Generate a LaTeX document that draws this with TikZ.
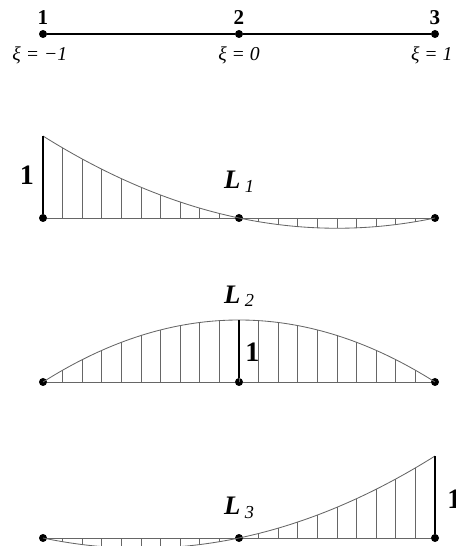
\documentclass[tikz,border=0pt]{standalone}
\usepackage{fontspec}
\setmainfont{Liberation Serif}
\usetikzlibrary{positioning}

\tikzset{
  dot/.style={circle, fill, inner sep=0pt, minimum size=0.2cm},
  base line/.style={black!60, line width=0.6pt},
  curve/.style={black!60, line width=0.6pt},
  hatch/.style={black!60, line width=0.5pt},
  unit/.style={line width=1.4pt},
  numlabel/.style={inner sep=0pt, font=\fontsize{15}{15}\selectfont\bfseries},
  onelabel/.style={inner sep=0pt, font=\fontsize{20}{20}\selectfont\bfseries},
  xilabel/.style={inner sep=0pt, font=\fontsize{14}{14}\selectfont\itshape},
  shapelabel/.style={inner sep=0pt, font=\fontsize{19}{19}\selectfont\bfseries\itshape},
}
\newcommand{\shapename}[1]{L\,\raisebox{-0.3ex}{\fontsize{13}{13}\selectfont\mdseries #1}}

\begin{document}
\begin{tikzpicture}[node distance=1cm]
\useasboundingbox (0,0) rectangle (11.4,13.65);

\node[dot] (p1) at (1.075,12.8) {};
\node[dot] (p2) at (5.975,12.8) {};
\node[dot] (p3) at (10.875,12.8) {};
\draw[line width=1.8pt] (p1) -- (p2) -- (p3);
\node[numlabel, above=0.12cm of p1] (n1) {1};
\node[numlabel, above=0.12cm of p2] (n2) {2};
\node[numlabel, above=0.12cm of p3] (n3) {3};
\node[xilabel, below=0.2cm of p1, xshift=-0.08cm] (xi1) {ξ = −1};
\node[xilabel, below=0.2cm of p2] (xi2) {ξ = 0};
\node[xilabel, below=0.2cm of p3, xshift=-0.08cm] (xi3) {ξ = 1};

% L1
\node[dot] (a1) at (1.075,8.2) {};
\node[dot] (a2) at (5.975,8.2) {};
\node[dot] (a3) at (10.875,8.2) {};
\coordinate (a1top) at (1.075,10.25);
\draw[base line] (a1) -- (a2) -- (a3);
\foreach \k in {-9,...,9}
  \draw[hatch] ({5.975+0.49*\k},8.2) -- ({5.975+0.49*\k},{8.2+2.05*(\k/10)*(\k/10-1)/2});
\draw[curve] plot[domain=-1:1, samples=81] ({5.975+4.9*\x},{8.2+2.05*\x*(\x-1)/2});
\draw[unit] (a1) -- (a1top);
\path (a1) -- (a1top) node[onelabel, midway, left=0.22cm] (one1) {1};
\node[shapelabel, above=0.62cm of a2, anchor=base] (l1) {\shapename{1}};

% L2
\node[dot] (b1) at (1.075,4.1) {};
\node[dot] (b2) at (5.975,4.1) {};
\node[dot] (b3) at (10.875,4.1) {};
\coordinate (b2top) at (5.975,5.65);
\draw[base line] (b1) -- (b2) -- (b3);
\foreach \k in {-9,...,9}
  \draw[hatch] ({5.975+0.49*\k},4.1) -- ({5.975+0.49*\k},{4.1+1.55*(1-(\k/10)*(\k/10))});
\draw[curve] plot[domain=-1:1, samples=81] ({5.975+4.9*\x},{4.1+1.55*(1-\x*\x)});
\draw[unit] (b2) -- (b2top);
\path (b2) -- (b2top) node[onelabel, pos=0.45, right=0.15cm] (one2) {1};
\node[shapelabel, above=0.42cm of b2top, anchor=base] (l2) {\shapename{2}};

% L3
\node[dot] (c1) at (1.075,0.2) {};
\node[dot] (c2) at (5.975,0.2) {};
\node[dot] (c3) at (10.875,0.2) {};
\coordinate (c3top) at (10.875,2.25);
\draw[base line] (c1) -- (c2) -- (c3);
\foreach \k in {-9,...,9}
  \draw[hatch] ({5.975+0.49*\k},0.2) -- ({5.975+0.49*\k},{0.2+2.05*(\k/10)*(\k/10+1)/2});
\draw[curve] plot[domain=-1:1, samples=81] ({5.975+4.9*\x},{0.2+2.05*\x*(\x+1)/2});
\draw[unit] (c3) -- (c3top);
\path (c3) -- (c3top) node[onelabel, pos=0.45, right=0.3cm] (one3) {1};
\node[shapelabel, above=0.47cm of c2, anchor=base] (l3) {\shapename{3}};
\end{tikzpicture}
\end{document}
